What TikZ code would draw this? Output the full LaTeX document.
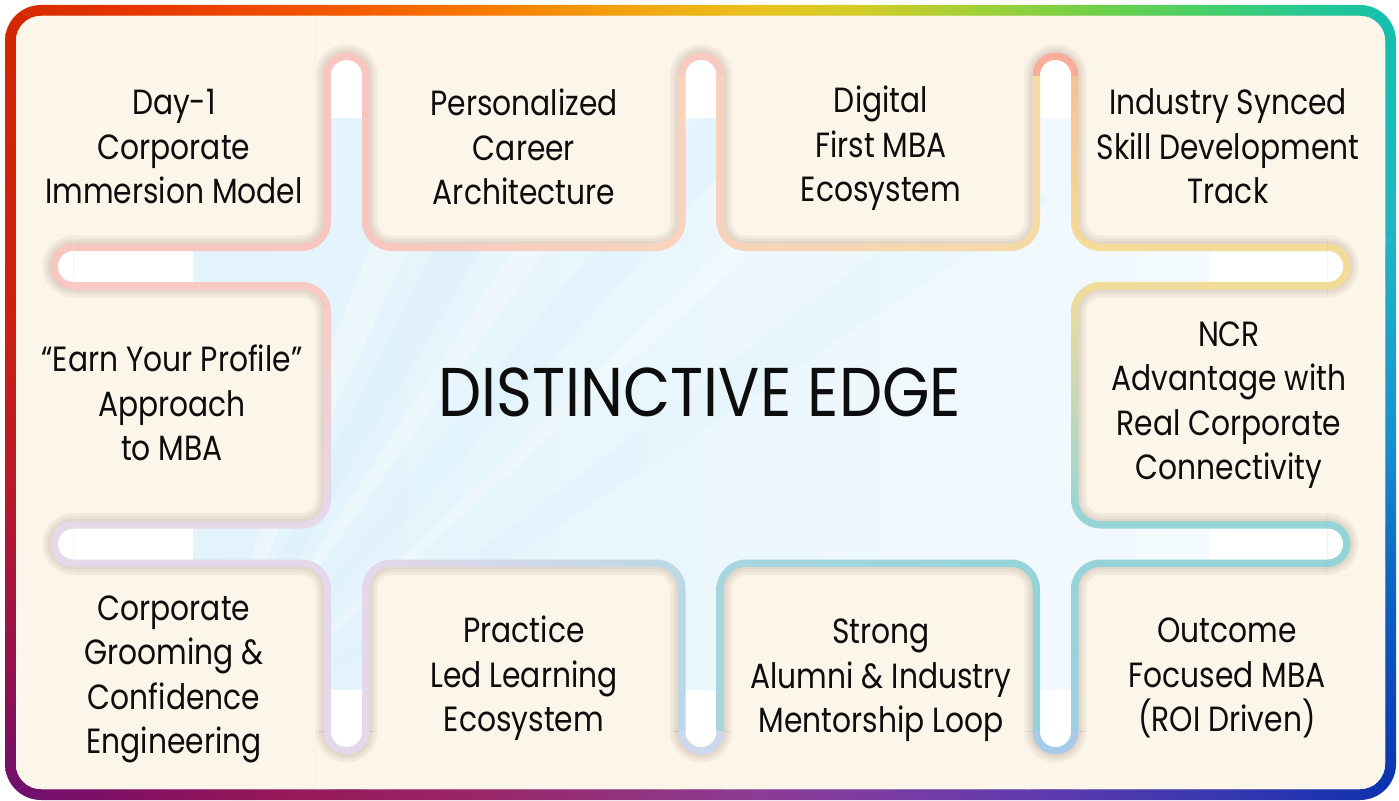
\documentclass[tikz,border=0pt]{standalone}
\usepackage{fontspec}
\newfontfamily\cardfont{Poppins}[FakeStretch=0.85]
\newfontfamily\headfont{Poppins}[FakeStretch=0.885]

\definecolor{cream}{HTML}{FCF5EA}
\definecolor{ink}{HTML}{0D0D0D}
\definecolor{umber}{HTML}{7A5E44}
\definecolor{skydeep}{HTML}{E2F3FC}
\definecolor{skypale}{HTML}{F3FAFE}
\definecolor{skyray}{HTML}{D6EEFA}
\definecolor{rosewash}{HTML}{F7C6C0}
\definecolor{blushwash}{HTML}{F8CAC2}
\definecolor{peachwash}{HTML}{F9D4BC}
\definecolor{apricot}{HTML}{F8D2BA}
\definecolor{strawwash}{HTML}{F5DAA6}
\definecolor{salmonwash}{HTML}{F9AE9A}
\definecolor{butterwash}{HTML}{F3DC98}
\definecolor{lilacwash}{HTML}{E4D8EA}
\definecolor{mistwash}{HTML}{BCD8E6}
\definecolor{aquawash}{HTML}{A8D6E0}
\definecolor{tealwash}{HTML}{94D4D8}
\definecolor{icewash}{HTML}{A8CCE8}
\definecolor{periwash}{HTML}{CCD8EC}

% rainbow rim, one shading per side (bbox mapped to 25bp..75bp)
\pgfdeclarehorizontalshading{rimtop}{100bp}{%
  rgb(0bp)=(.831,.157,0); rgb(25bp)=(.831,.157,0); rgb(30bp)=(.902,.212,0);
  rgb(37.5bp)=(.957,.353,0); rgb(42.5bp)=(.973,.486,0); rgb(47.5bp)=(.949,.643,.063);
  rgb(52.5bp)=(.910,.769,.125); rgb(56bp)=(.816,.8,.157); rgb(60bp)=(.627,.816,.22);
  rgb(64bp)=(.439,.816,.282); rgb(68bp)=(.282,.816,.408); rgb(71.5bp)=(.157,.784,.565);
  rgb(75bp)=(.078,.753,.675); rgb(100bp)=(.078,.753,.675)}
\pgfdeclarehorizontalshading{rimbottom}{100bp}{%
  rgb(0bp)=(.424,.063,.439); rgb(25bp)=(.424,.063,.439); rgb(30bp)=(.518,.063,.384);
  rgb(35bp)=(.588,.094,.345); rgb(41bp)=(.604,.141,.392); rgb(46.5bp)=(.58,.188,.478);
  rgb(52bp)=(.549,.235,.58); rgb(57bp)=(.478,.235,.643); rgb(62.5bp)=(.361,.227,.682);
  rgb(68bp)=(.235,.22,.69); rgb(75bp)=(.047,.188,.682); rgb(100bp)=(.047,.188,.682)}
\pgfdeclareverticalshading{rimleft}{100bp}{%
  rgb(0bp)=(.424,.063,.439); rgb(25bp)=(.424,.063,.439); rgb(32.5bp)=(.565,.063,.314);
  rgb(42.5bp)=(.706,.094,.188); rgb(55bp)=(.8,.125,.063); rgb(75bp)=(.831,.157,0);
  rgb(100bp)=(.831,.157,0)}
\pgfdeclareverticalshading{rimright}{100bp}{%
  rgb(0bp)=(.047,.188,.682); rgb(25bp)=(.047,.188,.682); rgb(37.5bp)=(.047,.376,.753);
  rgb(47.5bp)=(.094,.565,.816); rgb(60bp)=(.125,.706,.769); rgb(75bp)=(.078,.753,.675);
  rgb(100bp)=(.078,.753,.675)}

\begin{document}
\begin{tikzpicture}[x=1pt, y=-1pt,
  % node centre sits 8.85pt above the baseline of the last line
  cardtext/.style={font=\cardfont\fontsize{35}{44.5}\selectfont, text=ink,
    align=center, inner sep=0pt, text height=26.6pt, text depth=8.9pt},
  headline/.style={font=\headfont\fontsize{69}{80}\selectfont, text=ink,
    inner sep=0pt, anchor=base},
  umbra/.style={draw=umber, draw opacity=0.065},
]
\useasboundingbox (0,0) rectangle (1399,800);

% === Rainbow frame ===
\begin{scope}
  \clip[rounded corners=36pt] (5,5) rectangle (1396,800);
  \shade[shading=rimtop]    (700,402) -- (0,0)    -- (1399,0)   -- cycle;
  \shade[shading=rimbottom] (700,402) -- (0,800)  -- (1399,800) -- cycle;
  \shade[shading=rimleft]   (700,402) -- (0,0)    -- (0,800)    -- cycle;
  \shade[shading=rimright]  (700,402) -- (1399,0) -- (1399,800) -- cycle;
\end{scope}

\begin{scope}
\clip[rounded corners=25pt] (16,16) rectangle (1385,789);
\fill[white] (0,0) rectangle (1399,800);

% === Light sky behind the channels ===
\shade[left color=skydeep, right color=skypale] (193,118) rectangle (1209,689);
\begin{scope}
  \clip (193,118) rectangle (1209,689);
  \fill[white, opacity=.3]   (160,790) -- (420,118) -- (468,118) -- cycle;
  \fill[skyray, opacity=.3]  (160,790) -- (500,118) -- (560,118) -- cycle;
  \fill[white, opacity=.28]  (160,790) -- (600,118) -- (640,118) -- cycle;
  \fill[skyray, opacity=.25] (160,790) -- (700,118) -- (770,118) -- cycle;
  \fill[white, opacity=.25]  (160,790) -- (860,118) -- (900,118) -- cycle;
  \fill[skyray, opacity=.2]  (160,790) -- (1000,160) -- (1050,200) -- cycle;
\end{scope}

% === Cards: tinted rim, cream face, soft inner shadow ===
% rim shaded left to right
\foreach \xa/\ya/\xb/\yb/\ca/\cb in {
    -40/-40/323.5/243.5/rosewash/rosewash,
    369.5/-40/678/243.5/rosewash/peachwash,
    724/-40/1032.5/243.5/apricot/strawwash,
    -40/567/323.5/840/lilacwash/lilacwash,
    369.5/567/678/840/lilacwash/mistwash,
    724/567/1032.5/840/aquawash/tealwash}
{
  \shade[left color=\ca, right color=\cb, rounded corners=29.5pt]
    (\xa-7.5,\ya-7.5) rectangle (\xb+7.5,\yb+7.5);
  \fill[cream, rounded corners=22pt] (\xa,\ya) rectangle (\xb,\yb);
  \begin{scope}
    \clip[rounded corners=22pt] (\xa,\ya) rectangle (\xb,\yb);
    \foreach \lw in {16,10,5}
      \draw[umbra, line width=\lw pt, rounded corners=22pt] (\xa,\ya) rectangle (\xb,\yb);
  \end{scope}
}
% rim shaded top to bottom
\foreach \xa/\ya/\xb/\yb/\ca/\cb in {
    1078.5/-40/1440/243.5/salmonwash/butterwash,
    -40/289.5/323.5/521/blushwash/lilacwash,
    1078.5/289.5/1440/521/butterwash/tealwash,
    1078.5/567/1440/840/tealwash/icewash}
{
  \shade[top color=\ca, bottom color=\cb, rounded corners=29.5pt]
    (\xa-7.5,\ya-7.5) rectangle (\xb+7.5,\yb+7.5);
  \fill[cream, rounded corners=22pt] (\xa,\ya) rectangle (\xb,\yb);
  \begin{scope}
    \clip[rounded corners=22pt] (\xa,\ya) rectangle (\xb,\yb);
    \foreach \lw in {16,10,5}
      \draw[umbra, line width=\lw pt, rounded corners=22pt] (\xa,\ya) rectangle (\xb,\yb);
  \end{scope}
}

% === Rounded channel ends ===
\foreach \cx/\cy/\xa/\ya/\xb/\yb/\cc in {
    346.5/75.5/315.5/-40/377.5/75.5/rosewash,
    701/75.5/670/-40/732/75.5/blushwash,
    1055.5/75.5/1024.5/-40/1086.5/75.5/salmonwash,
    346.5/731.5/315.5/731.5/377.5/840/lilacwash,
    701/731.5/670/731.5/732/840/periwash,
    1055.5/731.5/1024.5/731.5/1086.5/840/icewash,
    73.5/266.5/-40/235.5/73.5/297.5/rosewash,
    1327.5/266.5/1327.5/235.5/1440/297.5/butterwash,
    73.5/544/-40/513/73.5/575/lilacwash,
    1327.5/544/1327.5/513/1440/575/tealwash}
{
  \fill[cream] (\xa,\ya) rectangle (\xb,\yb);
  \begin{scope}
    \clip (\xa,\ya) rectangle (\xb,\yb);
    \foreach \lw in {16,10,5}
      \draw[umbra, line width=\lw pt] (\cx,\cy) circle (23);
    \fill[\cc] (\cx,\cy) circle (23);
    \fill[white] (\cx,\cy) circle (15.5);
  \end{scope}
}
\end{scope}

% === Card texts ===
\node[cardtext] (day1)     at (174,195)  {Day-1\\Corporate\\Immersion Model};
\node[cardtext] (career)   at (524,196)  {Personalized\\Career\\Architecture};
\node[cardtext] (digital)  at (881,193)  {Digital\\First MBA\\Ecosystem};
\node[cardtext] (skills)   at (1228,195) {Industry Synced\\Skill Development\\Track};
\node[cardtext] (profile)  at (172,452)  {“Earn Your Profile”\\Approach\\to MBA};
\node[cardtext] (ncr)      at (1229,471) {NCR\\Advantage with\\Real Corporate\\Connectivity};
\node[cardtext] (grooming) at (174,745)  {Corporate\\Grooming \&\\Confidence\\Engineering};
\node[cardtext] (practice) at (524,723)  {Practice\\Led Learning\\Ecosystem};
\node[cardtext] (mentor)   at (881,724)  {Strong\\Alumni \& Industry\\Mentorship Loop};
\node[cardtext] (outcome)  at (1227,723) {Outcome\\Focused MBA\\(ROI Driven)};

% === Title ===
\node[headline] (edge) at (700,416) {DISTINCTIVE EDGE};

\end{tikzpicture}
\end{document}
